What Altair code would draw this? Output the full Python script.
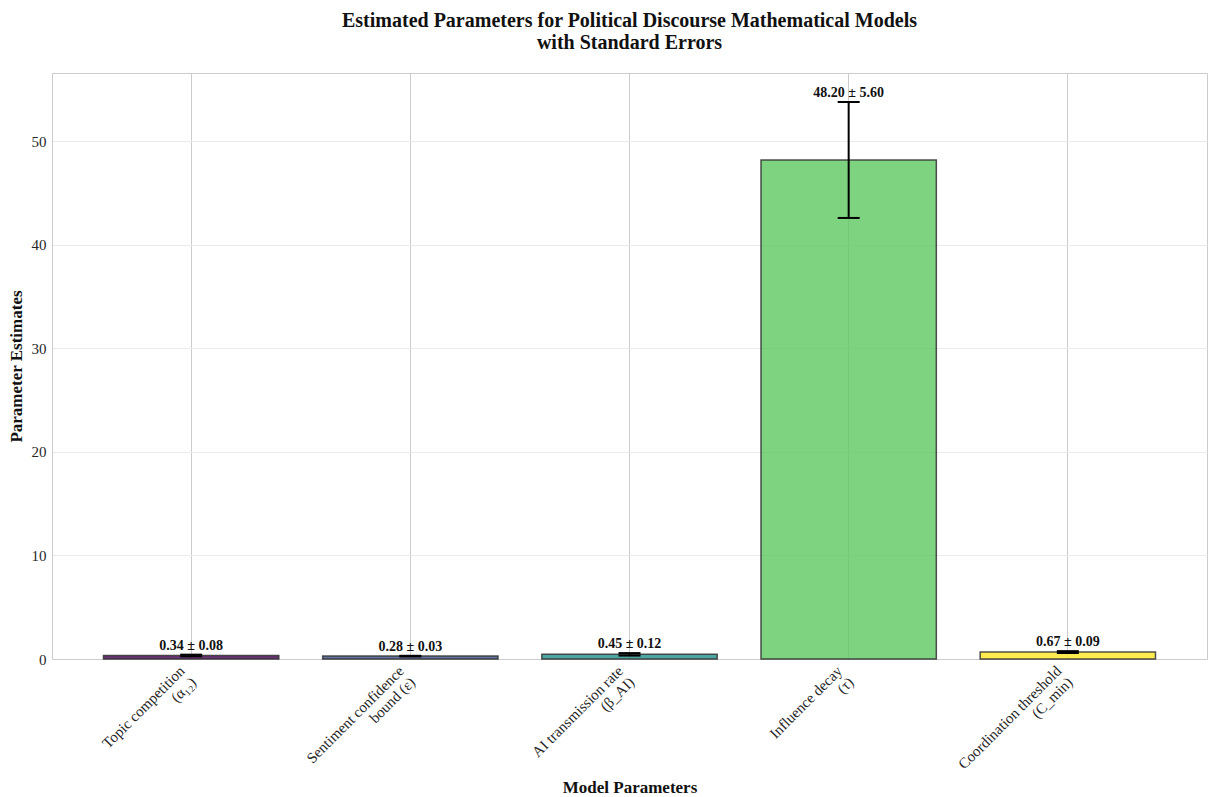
import altair as alt
import pandas as pd

# Parameter names (two-line axis labels), estimates and standard errors
params = [
    "Topic competition\n(α₁₂)",
    "Sentiment confidence\nbound (ε)",
    "AI transmission rate\n(β_AI)",
    "Influence decay\n(τ)",
    "Coordination threshold\n(C_min)",
]
estimates = [0.34, 0.28, 0.45, 48.20, 0.67]
std_errors = [0.08, 0.03, 0.12, 5.60, 0.09]
bar_colors = ["#440154", "#3b528b", "#21918c", "#5ec962", "#fde725"]

df = pd.DataFrame({"param": params, "est": estimates, "se": std_errors})

FONT = "Liberation Serif"

x_enc = alt.X(
    "param:N",
    sort=None,
    title="Model Parameters",
    scale=alt.Scale(paddingInner=0.2, paddingOuter=0.235),
    axis=alt.Axis(
        labelExpr="split(datum.label, '\\n')",
        labelAngle=315,
        labelAlign="right",
        labelBaseline="top",
        labelOffset=-14,
        labelPadding=4,
        labelLimit=400,
        labelFontSize=15,
        labelLineHeight=16,
        labelOverlap=False,
        ticks=False,
        bandPosition=0.5,
        grid=True,
        gridColor="#cccccc",
        gridWidth=1,
        titleY=128,
        titleBaseline="middle",
    ),
)

y_scale = alt.Scale(domain=[0, 56.6], nice=False)

base = alt.Chart(df).transform_calculate(
    lo="datum.est - datum.se",
    hi="datum.est + datum.se",
    lbl="format(datum.est, '.2f') + ' ± ' + format(datum.se, '.2f')",
)

bars = base.mark_bar(
    opacity=0.8, stroke="black", strokeWidth=1.5, strokeOpacity=0.85
).encode(
    x=x_enc,
    y=alt.Y(
        "est:Q",
        title="Parameter Estimates",
        scale=y_scale,
        axis=alt.Axis(
            values=[0, 10, 20, 30, 40, 50],
            ticks=False,
            labelPadding=6,
            labelFontSize=15,
            gridColor="#ebebeb",
            titleX=-36,
            titleBaseline="middle",
        ),
    ),
    color=alt.Color("param:N", sort=None, scale=alt.Scale(range=bar_colors), legend=None),
)

err_line = base.mark_rule(color="black", strokeWidth=2).encode(
    x=alt.X("param:N", sort=None),
    y="lo:Q",
    y2="hi:Q",
)

cap_lo = base.mark_tick(color="black", thickness=2, size=22, opacity=1).encode(
    x=alt.X("param:N", sort=None), y="lo:Q"
)
cap_hi = base.mark_tick(color="black", thickness=2, size=22, opacity=1).encode(
    x=alt.X("param:N", sort=None), y="hi:Q"
)

labels = base.mark_text(
    font=FONT, fontSize=14, fontWeight="bold", color="#111111",
    baseline="alphabetic", dy=-5,
).encode(
    x=alt.X("param:N", sort=None),
    y="hi:Q",
    text="lbl:N",
)

chart = (
    alt.layer(bars, err_line, cap_lo, cap_hi, labels)
    .properties(
        width=1155,
        height=586,
        autosize=alt.AutoSizeParams(type="none"),
        padding={"left": 52, "top": 73, "right": 1, "bottom": 138},
        title=alt.TitleParams(
            text=[
                "Estimated Parameters for Political Discourse Mathematical Models",
                "with Standard Errors",
            ],
            font=FONT,
            fontSize=20,
            fontWeight="bold",
            color="#111111",
            anchor="middle",
            offset=20,
            lineHeight=22,
        ),
    )
    .configure_view(stroke="#cccccc", strokeWidth=1)
    .configure_axis(
        labelFont=FONT,
        titleFont=FONT,
        labelColor="#262626",
        titleColor="#111111",
        titleFontSize=17,
        titleFontWeight="bold",
        domainColor="#cccccc",
        domainWidth=1,
    )
)

chart.save("out.html", embed_options={"renderer": "svg", "actions": False})
